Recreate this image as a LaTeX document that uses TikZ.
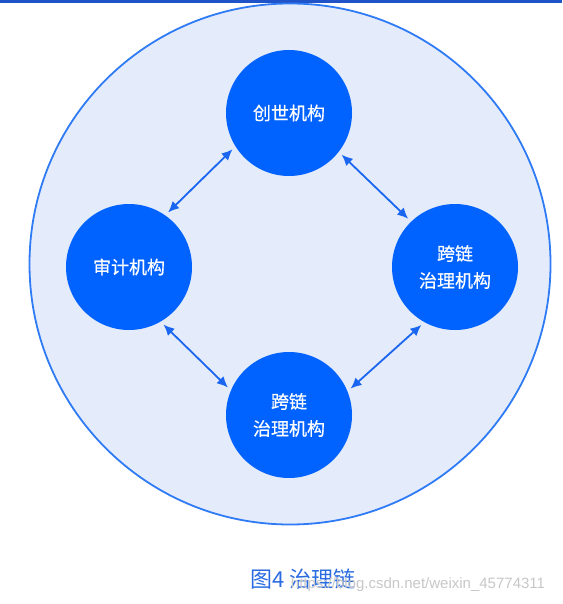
\documentclass[tikz,border=0pt]{standalone}
\usepackage{fontspec}
\setmainfont{Noto Sans CJK SC}
\newfontfamily\orgfont{Noto Sans CJK SC}[FakeBold=0.6]
\newfontfamily\wmfont{Liberation Sans}
\usetikzlibrary{positioning, arrows.meta}
\definecolor{ringblue}{RGB}{47,123,245}
\definecolor{ringfill}{RGB}{228,236,252}
\definecolor{orgblue}{RGB}{0,98,255}
\definecolor{linkblue}{RGB}{26,102,240}
\definecolor{barblue}{RGB}{32,82,200}
\definecolor{capblue}{RGB}{42,107,224}

\begin{document}
\begin{tikzpicture}[
  x=1pt, y=1pt,
  every node/.style={font=\orgfont\fontsize{18}{27}\selectfont},
  org/.style={circle, fill=orgblue, text=white, align=center, minimum size=126pt, inner sep=0pt},
  ring/.style={circle, draw=ringblue, line width=1.8pt, fill=ringfill, minimum size=521pt, inner sep=0pt},
  link/.style={{Latex[length=11pt,width=10pt]}-{Latex[length=11pt,width=10pt]}, line width=1.8pt, draw=linkblue, shorten <=4pt, shorten >=4pt}
]
\useasboundingbox (0,0) rectangle (562,-604);
\fill[barblue] (0,0) rectangle (562,-3);
\node[ring] (chain) at (290,-264) {};
\node[org] (genesis) at (289,-113) {创世机构};
\node[org, on grid, below left=154pt and 160pt of genesis] (audit) {审计机构};
\node[org, on grid, below right=154pt and 166pt of genesis] (crossR) {跨链\\治理机构};
\node[org, on grid, below=302pt of genesis] (crossB) {跨链\\治理机构};
\node[text=capblue, font=\fontsize{22}{26}\selectfont] (caption) at (303,-579) {图4 治理链};
\node[text=black!22, font=\wmfont\fontsize{15}{18}\selectfont] (mark) at (418,-585) {https://blog.csdn.net/weixin\_45774311};

\draw[link] (audit.55) -- (genesis.212);
\draw[link] (genesis.322) -- (crossR.134);
\draw[link] (audit.300) -- (crossB.157);
\draw[link] (crossB.22) -- (crossR.241);
\end{tikzpicture}
\end{document}
